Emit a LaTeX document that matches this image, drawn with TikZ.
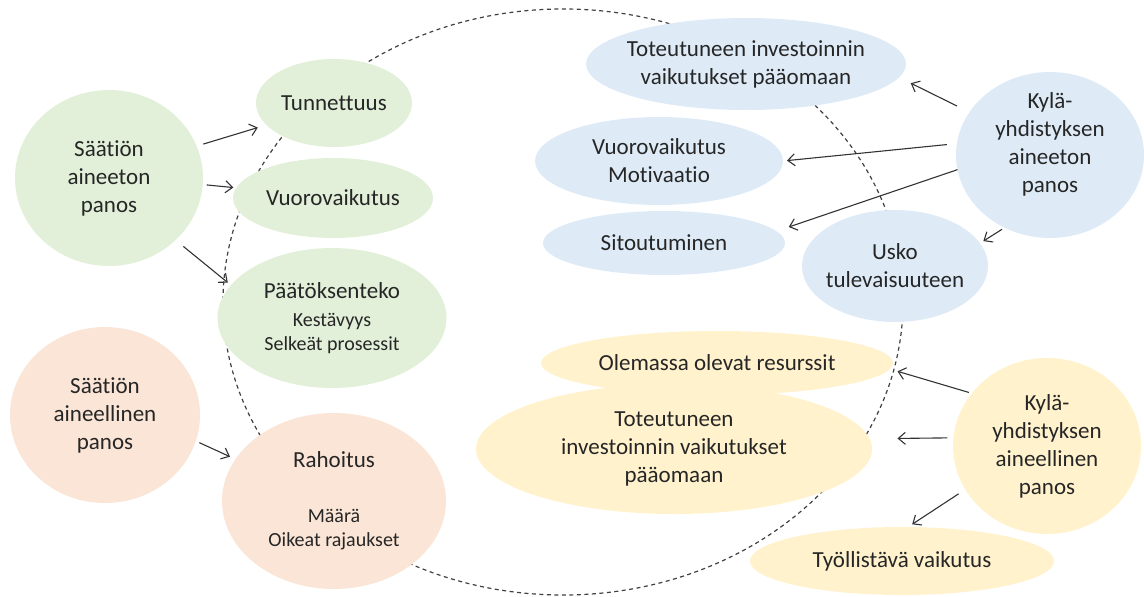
\documentclass[tikz,border=0pt]{standalone}
\usepackage{fontspec}
\setmainfont{Carlito}[Ligatures={NoCommon}]
\usepackage{tikz}
\usetikzlibrary{shapes.geometric,arrows.meta}

\definecolor{vihrea}{HTML}{E2F0D9}
\definecolor{persikka}{HTML}{FBE5D6}
\definecolor{sininen}{HTML}{DEEBF7}
\definecolor{keltainen}{HTML}{FFF2CC}
\newcommand{\pieni}{\fontsize{20}{24}\selectfont}

\begin{document}
\begin{tikzpicture}[x=1pt, y=-1pt,
    >={Straight Barb[length=7pt, width=12pt]},
    blob/.style={ellipse, inner sep=0pt, outer sep=0pt},
    txt/.style={align=center, font=\fontsize{23}{28}\selectfont, text=black!85},
    arr/.style={->, line width=1.1pt, draw=black!80}]
            \useasboundingbox (0,0) rectangle (1144,597);
            \draw[black!75, line width=1.2pt, dash pattern=on 4pt off 3.5pt] (563,302) ellipse [x radius=340, y radius=293];

            % saatio
            \node[blob, fill=vihrea, minimum width=188pt, minimum height=176pt, label={[txt]center:Säätiön\\aineeton\\panos}] (sa) at (109,178) {};
            \node[blob, fill=vihrea, minimum width=156pt, minimum height=88pt, label={[txt]center:Tunnettuus}] (tun) at (334,103) {};
            \node[blob, fill=vihrea, minimum width=200pt, minimum height=80pt, label={[txt]center:Vuorovaikutus}] (vuo) at (333,198) {};
            \node[blob, fill=vihrea, minimum width=229pt, minimum height=140pt, label={[txt]center:Päätöksenteko\\{\pieni Kestävyys}\\[-4pt]{\pieni Selkeät prosessit}}] (pat) at (332,318) {};
            \node[blob, fill=persikka, minimum width=190pt, minimum height=176pt, label={[txt]center:Säätiön\\aineellinen\\panos}] (san) at (105,415) {};
            \node[blob, fill=persikka, minimum width=224pt, minimum height=176pt, label={[txt]center:Rahoitus\\[27pt]{\pieni Määrä}\\[-4pt]{\pieni Oikeat rajaukset}}] (rah) at (334,501) {};

            % kylayhdistys
            \node[blob, fill=sininen, minimum width=320pt, minimum height=92pt, label={[txt]center:Toteutuneen investoinnin\\vaikutukset pääomaan}] (tot1) at (746,64) {};
            \node[blob, fill=sininen, minimum width=248pt, minimum height=88pt, label={[txt]center:Vuorovaikutus\\Motivaatio}] (vm) at (659,161) {};
            \node[blob, fill=sininen, minimum width=242pt, minimum height=64pt, label={[txt]center:Sitoutuminen}] (sit) at (664,243) {};
            \node[blob, fill=sininen, minimum width=186pt, minimum height=112pt, label={[txt]center:Usko\\tulevaisuuteen}] (usko) at (895,266) {};
            \node[blob, fill=sininen, minimum width=188pt, minimum height=166pt, label={[txt, yshift=11pt]center:Kylä-\\yhdistyksen\\aineeton\\panos}] (ka) at (1050,155) {};
            \node[blob, fill=keltainen, minimum width=352pt, minimum height=64pt, label={[txt]center:Olemassa olevat resurssit}] (ole) at (717,363) {};
            \node[blob, fill=keltainen, minimum width=396pt, minimum height=130pt, label={[txt]center:Toteutuneen\\investoinnin vaikutukset\\pääomaan}] (tot2) at (674,449) {};
            \node[blob, fill=keltainen, minimum width=188pt, minimum height=176pt, label={[txt]center:Kylä-\\yhdistyksen\\aineellinen\\panos}] (kb) at (1047,446) {};
            \node[blob, fill=keltainen, minimum width=304pt, minimum height=68pt, label={[txt]center:Työllistävä vaikutus}] (ty) at (902,561) {};

            % nuolet
            \draw[arr, shorten <=7pt, shorten >=9pt] (sa.20) -- (tun.198);
            \draw[arr, shorten <=4pt, shorten >=3pt] (sa.-4) -- (vuo.174);
            \draw[arr, shorten <=10pt, shorten >=4pt] (sa.-43) -- (pat.162);
            \draw[arr, shorten <=4pt, shorten >=6pt] (san.-16) -- (rah.157);
            \draw[arr, shorten <=14pt, shorten >=13pt] (ka.152) -- (tot1.-5);
            \draw[arr, shorten <=10pt, shorten >=4pt] (ka.173) -- (vm.0);
            \draw[arr, shorten >=13pt] (ka.189) -- (sit.6);
            \draw[arr, shorten <=3pt, shorten >=4pt] (ka.238) -- (usko.15);
            \draw[arr, shorten <=3pt, shorten >=8pt] (kb.145) -- (ole.-2);
            \draw[arr, shorten <=6pt, shorten >=28pt] (kb.175) -- (tot2.3);
            \draw[arr, shorten <=8pt, shorten >=5pt] (kb.208) -- (ty.80);
        \end{tikzpicture}
\end{document}
